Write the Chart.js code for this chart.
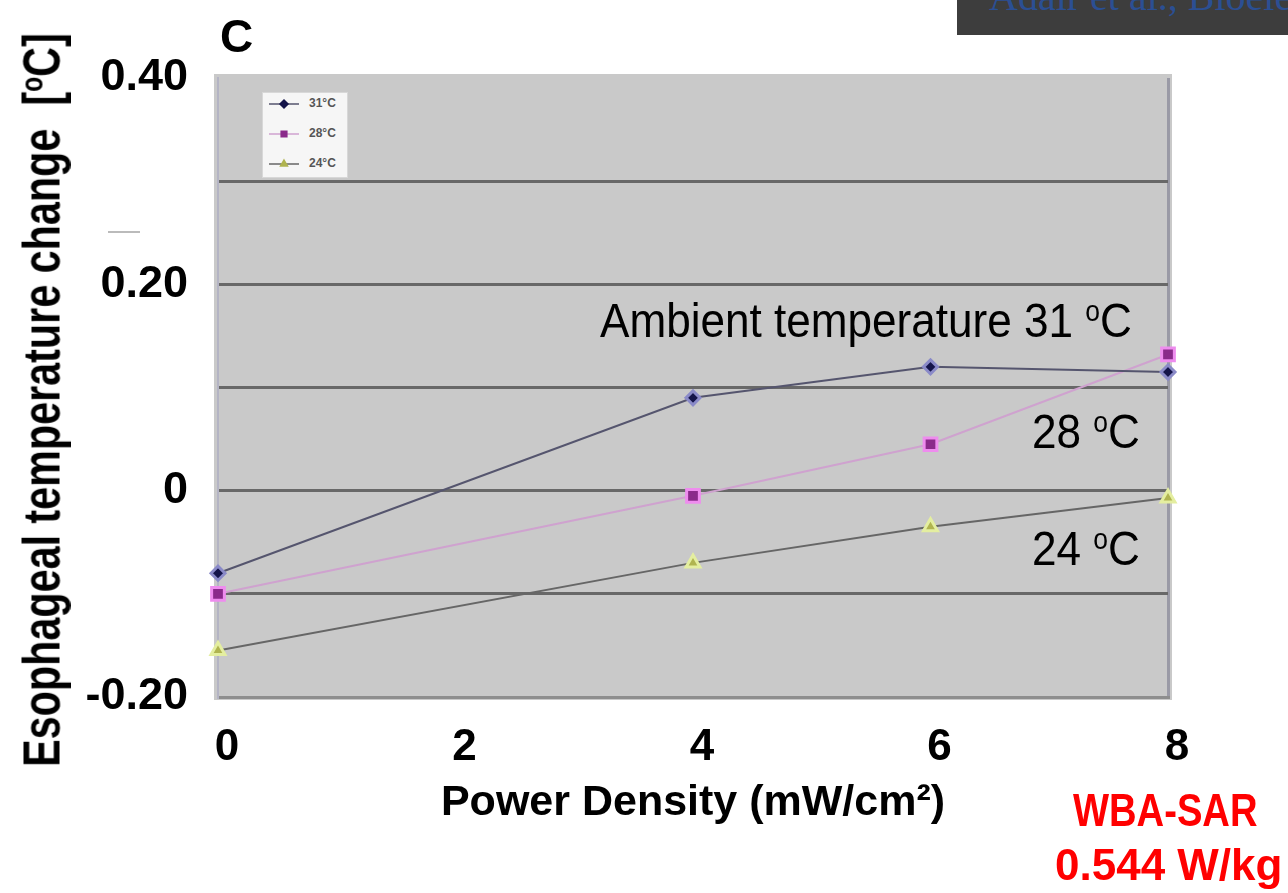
<!DOCTYPE html>
<html lang="en">
<head>
<meta charset="UTF-8">
<title>Esophageal temperature change</title>
<script src="https://cdn.jsdelivr.net/npm/chart.js"></script>
<style>
  html, body { margin: 0; padding: 0; background: #fff; }
  #wrap { position: relative; width: 1288px; height: 893px; overflow: hidden; }
  #chart { position: absolute; left: 0; top: 0; }
  .txt { position: absolute; white-space: nowrap; line-height: 1; color: #000; transform-origin: 0 0; }
  .note { font-family: "Liberation Sans", Arial, sans-serif; font-size: 49px; transform: scaleX(0.9); }
  .deg { font-size: 0.6em; vertical-align: 0.55em; }
  .panel { font-family: "Liberation Sans", Arial, sans-serif; font-weight: bold; font-size: 46px; }
  .sar { font-family: "Liberation Sans", Arial, sans-serif; font-weight: bold; color: #ff0000; }
  .anchor { position: absolute; width: 0; height: 0; }
  .ytitle { position: absolute; left: 0; top: 0; white-space: nowrap; line-height: 1;
            font-family: "Liberation Sans", Arial, sans-serif; font-weight: bold; font-size: 51px;
            transform: translate(-50%, -50%) rotate(-90deg) scaleX(0.81); }
  #banner { position: absolute; left: 957px; top: 0; width: 331px; height: 35px; background: #3d3d3d; overflow: hidden; }
  #banner span { position: absolute; left: 32px; top: -27px; font-family: "Liberation Serif", serif; font-size: 40px; color: #2b4f93; white-space: nowrap; }
  #legend { position: absolute; left: 262px; top: 92px; width: 86px; height: 86px; background: #f6f6f6; border: 1px solid #d8d8d8; box-sizing: border-box; }
  .lrow { position: absolute; left: 6px; height: 14px; font-family: "Liberation Sans", Arial, sans-serif; font-size: 12px; font-weight: bold; color: #555; }
  .lrow canvas { vertical-align: middle; }
  .lrow b { position: absolute; left: 40px; top: 0; }
</style>
</head>
<body>
<div id="wrap">
  <canvas id="chart" width="1288" height="893"></canvas>

  <div id="banner"><span>Adair et al., Bioelectromagnetics</span></div>
  <div class="txt panel" style="left:220px; top:13px;">C</div>
  <div style="position:absolute; left:108px; top:231px; width:32px; height:2px; background:#bbb;"></div>

  <div class="anchor" style="left:42px; top:400px;">
    <div class="ytitle">Esophageal temperature change&nbsp; [<span class="deg">o</span>C]</div>
  </div>

  <div id="legend"></div>

  <div class="txt note" style="left:600px; top:296px;">Ambient temperature 31 <span class="deg">o</span>C</div>
  <div class="txt note" style="left:1032px; top:407px;">28 <span class="deg">o</span>C</div>
  <div class="txt note" style="left:1032px; top:524px;">24 <span class="deg">o</span>C</div>

  <div class="txt sar" style="left:1073px; top:787px; font-size:46px; transform:scaleX(0.83);">WBA-SAR</div>
  <div class="txt sar" style="left:1055px; top:843px; font-size:44px;">0.544 W/kg</div>
</div>

<script>
// values
const powerDensity = [0, 4, 6, 8];
const rise31 = [-0.08, 0.09, 0.12, 0.115];
const rise28 = [-0.10, -0.005, 0.045, 0.132];
const rise24 = [-0.155, -0.07, -0.035, -0.007];
const seriesNames = ['31\u00b0C', '28\u00b0C', '24\u00b0C'];

const xTickValues = [0, 2, 4, 6, 8];
const yLabelValues = [-0.2, 0, 0.2, 0.4];
const yLabelTexts = ['-0.20', '0', '0.20', '0.40'];

const styles = [
    { line: '#55556e', fill: '#14144a', border: '#8a8ac8', shape: 'rectRot', r: 7 },
    { line: '#cfa2cf', fill: '#8a2a8a', border: '#ee8cee', shape: 'rect', r: 9 },
    { line: '#666666', fill: '#b0b450', border: '#e4eea0', shape: 'triangle', r: 8 }
];

function pts(ys) {
    return powerDensity.map((x, i) => ({ x: x, y: ys[i] }));
}

const allSeries = [rise31, rise28, rise24];
const datasets = allSeries.map((ys, i) => ({
    label: seriesNames[i],
    data: pts(ys),
    borderColor: styles[i].line,
    borderWidth: 2,
    pointStyle: styles[i].shape,
    pointRadius: styles[i].r,
    pointBackgroundColor: styles[i].fill,
    pointBorderColor: styles[i].border,
    pointBorderWidth: 3,
    tension: 0
}));

// gray plotting area
const plotBg = {
    id: 'plotBg',
    beforeDraw(chart) {
        const a = chart.chartArea, c = chart.ctx;
        c.save();
        c.fillStyle = '#c9c9c9';
        c.fillRect(a.left - 4, a.top - 4, a.right - a.left + 8, a.bottom - a.top + 7);
        c.restore();
    }
};

new Chart(document.getElementById('chart'), {
    type: 'line',
    data: { datasets: datasets },
    plugins: [plotBg],
    options: {
        responsive: false,
        animation: false,
        devicePixelRatio: 1,
        clip: false,
        layout: { padding: { left: 12, top: 78, right: 120, bottom: 64 } },
        plugins: { legend: { display: false }, tooltip: { enabled: false } },
        scales: {
            x: {
                type: 'linear',
                min: 0, max: 8,
                afterBuildTicks: s => { s.ticks = xTickValues.map(v => ({ value: v })); },
                afterFit: s => { s.height = 893 - 697 - 64; },
                grid: {
                    drawTicks: false,
                    lineWidth: 3,
                    color: c => (c.tick && c.tick.value === 8) ? '#9a9aa6' : 'rgba(0,0,0,0)'
                },
                border: { display: true, color: '#8e8e8e', width: 3 },
                ticks: {
                    autoSkip: false,
                    maxRotation: 0,
                    padding: 24,
                    labelOffset: 9,
                    color: '#000',
                    font: { family: '"Liberation Sans", Arial, sans-serif', weight: 'bold', size: 44 }
                },
                title: {
                    display: true,
                    text: 'Power Density (mW/cm\u00b2)',
                    color: '#000',
                    padding: { top: 0, bottom: 0 },
                    font: { family: '"Liberation Sans", Arial, sans-serif', weight: 'bold', size: 43 }
                }
            },
            y: {
                min: -0.2, max: 0.4,
                afterFit: s => { s.width = 218 - 12; },
                ticks: {
                    stepSize: 0.1,
                    autoSkip: false,
                    padding: 30,
                    color: '#000',
                    font: { family: '"Liberation Sans", Arial, sans-serif', weight: 'bold', size: 45 },
                    callback: v => {
                        const k = yLabelValues.findIndex(t => Math.abs(t - v) < 1e-6);
                        return k >= 0 ? yLabelTexts[k] : '';
                    }
                },
                grid: {
                    drawTicks: false,
                    lineWidth: 3,
                    color: c => {
                        const v = c.tick ? c.tick.value : 0;
                        if (Math.abs(v - 0.4) < 1e-6 || Math.abs(v + 0.2) < 1e-6) return 'rgba(0,0,0,0)';
                        return '#686868';
                    }
                },
                border: { display: true, color: '#b4b4c4', width: 2 },
                title: { display: false }
            }
        }
    }
});

// small legend box, built from the series
const legend = document.getElementById('legend');
seriesNames.forEach((name, i) => {
    const row = document.createElement('div');
    row.className = 'lrow';
    row.style.top = (3 + i * 30) + 'px';
    const cv = document.createElement('canvas');
    cv.width = 30; cv.height = 14;
    const c = cv.getContext('2d');
    c.strokeStyle = styles[i].line; c.lineWidth = 1.5;
    c.beginPath(); c.moveTo(0, 7); c.lineTo(30, 7); c.stroke();
    c.fillStyle = styles[i].fill;
    c.strokeStyle = styles[i].fill;
    Chart.helpers.drawPoint(c, { pointStyle: styles[i].shape, radius: 4, borderWidth: 1 }, 15, 7);
    row.appendChild(cv);
    const t = document.createElement('b');
    t.textContent = name;
    row.appendChild(t);
    legend.appendChild(row);
});
</script>
</body>
</html>
